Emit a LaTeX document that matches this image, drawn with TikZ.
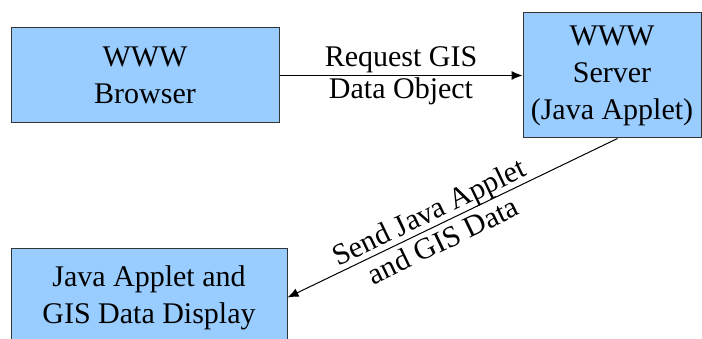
\documentclass[tikz,border=0pt]{standalone}
\usepackage{fontspec}
\setmainfont{Liberation Serif}
\usetikzlibrary{arrows.meta}
\definecolor{boxblue}{HTML}{99CCFF}
\tikzset{
  block/.style={draw=black!80, fill=boxblue, line width=1pt, align=center, inner sep=0pt,
    font=\fontsize{30}{37}\selectfont},
  link/.style={line width=1pt, -{Latex[length=11pt,width=9pt]}},
  linklabel/.style={align=center, font=\fontsize{30}{32}\selectfont}
}
\begin{document}
\begin{tikzpicture}[x=1pt,y=1pt]
  \useasboundingbox (0,0) rectangle (702,339);
  % boxes
  \node[block, minimum width=268pt, minimum height=95pt] (browser) at (145,263.5) {WWW\\Browser};
  \node[block, minimum width=178pt, minimum height=125pt] (server) at (612,263.5) {WWW\\Server\\(Java Applet)};
  \node[block, minimum width=276pt, minimum height=97pt] (display) at (149,41.5) {Java Applet and\\GIS Data Display};
  % request and reply
  \draw[link] (browser) -- node[linklabel] {Request GIS\\Data Object} (server);
  \draw[link] (server.275) -- node[linklabel, sloped, pos=0.55] {Send Java Applet\\and GIS Data} (display.east);
\end{tikzpicture}
\end{document}
